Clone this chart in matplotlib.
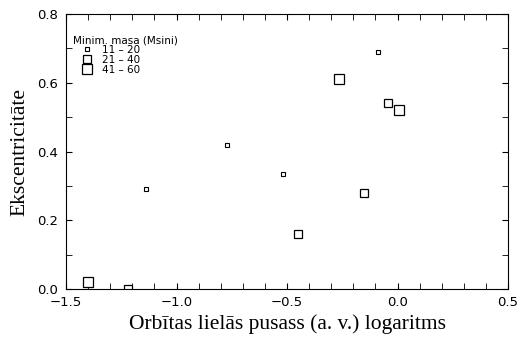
import matplotlib
matplotlib.use("Agg")
import matplotlib.pyplot as plt
from matplotlib.ticker import MultipleLocator

# data: log10 semi-major axis, eccentricity
small_x = [-1.14, -0.77, -0.52, -0.09]
small_y = [0.29, 0.42, 0.335, 0.69]
med_x = [-1.22, -0.45, -0.15, -0.045]
med_y = [0.0, 0.16, 0.28, 0.54]
large_x = [-1.40, -0.265, 0.005]
large_y = [0.02, 0.61, 0.52]
labels = ["11 – 20", "21 – 40", "41 – 60"]

fig = plt.figure(figsize=(5.17, 3.45), dpi=100)
ax = fig.add_axes([0.1277, 0.1623, 0.8549, 0.7971])

kw = dict(marker="s", linestyle="none", markerfacecolor="white", markeredgecolor="black")
ax.plot(small_x, small_y, markersize=3, markeredgewidth=0.8, label=labels[0], **kw)
ax.plot(med_x, med_y, markersize=5.5, markeredgewidth=0.9, label=labels[1], **kw)
ax.plot(large_x, large_y, markersize=7.5, markeredgewidth=0.9, label=labels[2], **kw)

ax.set_xlim(-1.5, 0.5)
ax.set_ylim(0.0, 0.8)
ax.xaxis.set_major_locator(MultipleLocator(0.5))
ax.xaxis.set_minor_locator(MultipleLocator(0.1))
ax.yaxis.set_major_locator(MultipleLocator(0.2))
ax.yaxis.set_minor_locator(MultipleLocator(0.1))
ax.tick_params(which="both", direction="in", top=True, right=True, labelsize=9.5, length=4)
ax.tick_params(axis="x", which="major", pad=5)
ax.tick_params(axis="y", which="major", pad=6)
for s in ax.spines.values():
    s.set_linewidth(0.8)

ax.set_xlabel("Orbītas lielās pusass (a. v.) logaritms", family="Liberation Serif",
              fontsize=15.5, labelpad=4)
ax.set_ylabel("Ekscentricitāte", family="Liberation Serif", fontsize=15.5, labelpad=5)

leg = ax.legend(title="Minim. masa (Msini)", loc="upper left", frameon=False,
                fontsize=7.5, title_fontsize=7.5, labelspacing=0.0, handletextpad=0.2,
                handlelength=2.6, borderaxespad=0.3, alignment="left",
                bbox_to_anchor=(0.0, 0.95))

fig.savefig("out.png", dpi=100)
